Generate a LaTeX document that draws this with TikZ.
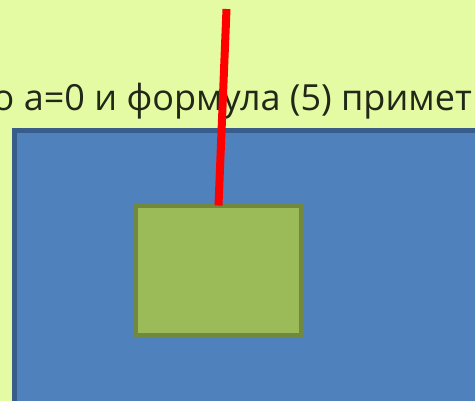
\documentclass[tikz,border=0pt]{standalone}
\usepackage{fontspec}
\setmainfont{Open Sans}
\definecolor{paper}{RGB}{229,251,163}
\definecolor{screenfill}{RGB}{79,129,189}
\definecolor{screenline}{RGB}{56,93,138}
\definecolor{platefill}{RGB}{155,187,89}
\definecolor{plateline}{RGB}{113,137,63}
\definecolor{inktext}{RGB}{34,40,24}
\tikzset{
  screenbox/.style={draw=screenline,fill=screenfill,line width=5pt,rectangle,
    inner sep=0pt,outer sep=0pt,anchor=north west},
  platebox/.style={draw=plateline,fill=platefill,line width=5pt,rectangle,
    inner sep=0pt,outer sep=0pt,line join=round,anchor=north west},
  thread/.style={draw=red,line width=8pt}
}
\begin{document}
\begin{tikzpicture}[x=1pt,y=-1pt]
% page size first, then the paper
\useasboundingbox (0,0) rectangle (475,400);
\fill[paper] (-10,-10) rectangle (485,410);
% the line of text, cut off at both sides
\node[anchor=base east,inner sep=0pt,text=inktext,font=\fontsize{36}{42}\selectfont]
  (caption) at (472,110) {о а=0 и формула (5) примет};
% the big blue screen
\node[screenbox,minimum width=500pt,minimum height=300pt] (screen) at (14.5,130.5) {};
% the green plate
\node[platebox,minimum width=166pt,minimum height=130pt] (plate) at (135.5,205.5) {};
% the red thread
\coordinate (pin) at (226.5,9);
\draw[thread] (pin) -- (plate.north);
\end{tikzpicture}
\end{document}
